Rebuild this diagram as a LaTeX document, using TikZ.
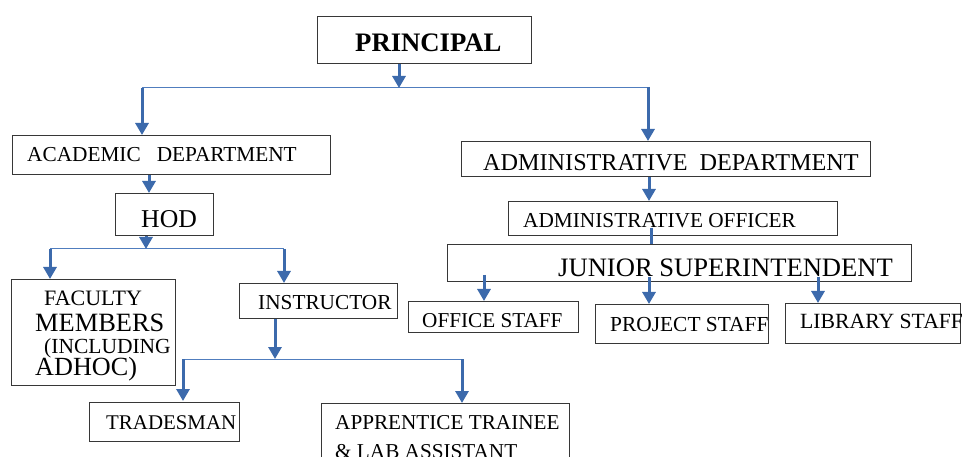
\documentclass[tikz,border=0pt]{standalone}
\usepackage{fontspec}
\setmainfont{Liberation Serif}
\usetikzlibrary{arrows.meta}
\definecolor{lineblue}{RGB}{60,106,172}
\definecolor{barblue}{RGB}{80,125,190}
\definecolor{boxgray}{RGB}{55,55,55}
\newcommand\fsz[1]{\fontsize{#1}{#1}\selectfont}
\tikzset{
  box/.style={draw=boxgray, line width=1.1pt, rectangle, inner sep=0pt, anchor=north west},
  txt/.style={inner sep=0pt, anchor=base west, text=black},
  arr/.style={draw=lineblue, line width=3pt, -{Triangle[width=13pt,length=12pt]}},
  stem/.style={draw=lineblue, line width=3pt},
  bar/.style={draw=barblue, line width=1pt}
}
\begin{document}
\begin{tikzpicture}[x=1pt,y=-1pt]
\useasboundingbox (0,0) rectangle (962,457);
\clip (0,0) rectangle (962,457);
\fill[white] (0,0) rectangle (962,457);

% boxes
\node[box, minimum width=214pt, minimum height=47pt] (principal) at (317,16) {};
\node[box, minimum width=318pt, minimum height=39pt] (acad) at (12,135) {};
\node[box, minimum width=98pt, minimum height=42pt] (hod) at (115,193) {};
\node[box, minimum width=409pt, minimum height=35pt] (admdept) at (461,141) {};
\node[box, minimum width=329pt, minimum height=34pt] (admoff) at (508,201) {};
\node[box, minimum width=464pt, minimum height=37pt] (junior) at (447,244) {};
\node[box, minimum width=170pt, minimum height=31pt] (office) at (408,301) {};
\node[box, minimum width=173pt, minimum height=39pt] (project) at (595,304) {};
\node[box, minimum width=175pt, minimum height=40pt] (library) at (785,303) {};
\node[box, minimum width=164pt, minimum height=106pt] (faculty) at (11,279) {};
\node[box, minimum width=158pt, minimum height=35pt] (instr) at (239,283) {};
\node[box, minimum width=150pt, minimum height=39pt] (trades) at (89,402) {};
\node[box, minimum width=248pt, minimum height=90pt] (appr) at (321,403) {};

% texts
\node[txt, font=\fsz{26.7}\bfseries] (tprincipal) at (355,52) {PRINCIPAL};
\node[txt, font=\fsz{21.3}] (tacad) at (27,162) {ACADEMIC\ \ \ DEPARTMENT};
\node[txt, font=\fsz{25.7}] (thod) at (141,228) {HOD};
\node[txt, font=\fsz{24.2}] (tadmdept) at (483,171) {ADMINISTRATIVE\ \ DEPARTMENT};
\node[txt, font=\fsz{21.3}] (tadmoff) at (523,228) {ADMINISTRATIVE OFFICER};
\node[txt, font=\fsz{26.6}] (tjunior) at (558,277) {JUNIOR SUPERINTENDENT};
\node[txt, font=\fsz{21.2}] (toffice) at (422,327) {OFFICE STAFF};
\node[txt, font=\fsz{21.4}] (tproject) at (610,332) {PROJECT STAFF};
\node[txt, font=\fsz{21.7}] (tlibrary) at (800,328) {LIBRARY STAFF};
\node[txt, font=\fsz{22}] (tfac1) at (44,306) {FACULTY};
\node[txt, font=\fsz{26.4}] (tfac2) at (35,332) {MEMBERS};
\node[txt, font=\fsz{21.5}] (tfac3) at (44,353) {(INCLUDING};
\node[txt, font=\fsz{26.2}] (tfac4) at (35,375) {ADHOC)};
\node[txt, font=\fsz{21.3}] (tinstr) at (258,310) {INSTRUCTOR};
\node[txt, font=\fsz{20.9}] (ttrades) at (106,429) {TRADESMAN};
\node[txt, font=\fsz{21.2}] (tappr1) at (335,429) {APPRENTICE TRAINEE};
\node[txt, font=\fsz{21.2}] (tappr2) at (335,458) {\& LAB ASSISTANT};

% junction coordinates
\coordinate (j0) at (399,88);
\coordinate (jl) at (142,88);
\coordinate (jr) at (648,88);
\coordinate (jacad) at (149,0);
\coordinate (j1) at (146,249);
\coordinate (j1l) at (50,249);
\coordinate (j1r) at (284,249);
\coordinate (j2) at (275,359);
\coordinate (j2l) at (183,359);
\coordinate (j2r) at (462,359);
\coordinate (jad) at (649,0);
\coordinate (jof) at (651,228);
\coordinate (sof) at (484,275);
\coordinate (spr) at (649,277);
\coordinate (sli) at (818,277);

% connectors
\draw[bar] (jl) -- (jr);
\draw[arr] (principal.south -| j0) -- (j0);
\draw[arr] (jl) -- (acad.north -| jl);
\draw[arr] ([yshift=1pt]jr) -- (admdept.north -| jr);
\draw[arr] (acad.south -| jacad) -- (hod.north -| jacad);

\draw[bar] (j1l) -- (j1r);
\draw[arr] (hod.south -| j1) -- (j1);
\draw[arr] (j1l) -- (faculty.north -| j1l);
\draw[arr] (j1r) -- (instr.north -| j1r);

\draw[bar] (j2l) -- (j2r);
\draw[arr] (instr.south -| j2) -- (j2);
\draw[arr] (j2l) -- ([yshift=1pt]trades.north -| j2l);
\draw[arr] (j2r) -- (appr.north -| j2r);

\draw[arr] (admdept.south -| jad) -- (admoff.north -| jad);
\draw[stem] (jof) -- (junior.north -| jof);
\draw[arr] (sof) -- (office.north -| sof);
\draw[arr] (spr) -- (project.north -| spr);
\draw[arr] (sli) -- (library.north -| sli);
\end{tikzpicture}
\end{document}
